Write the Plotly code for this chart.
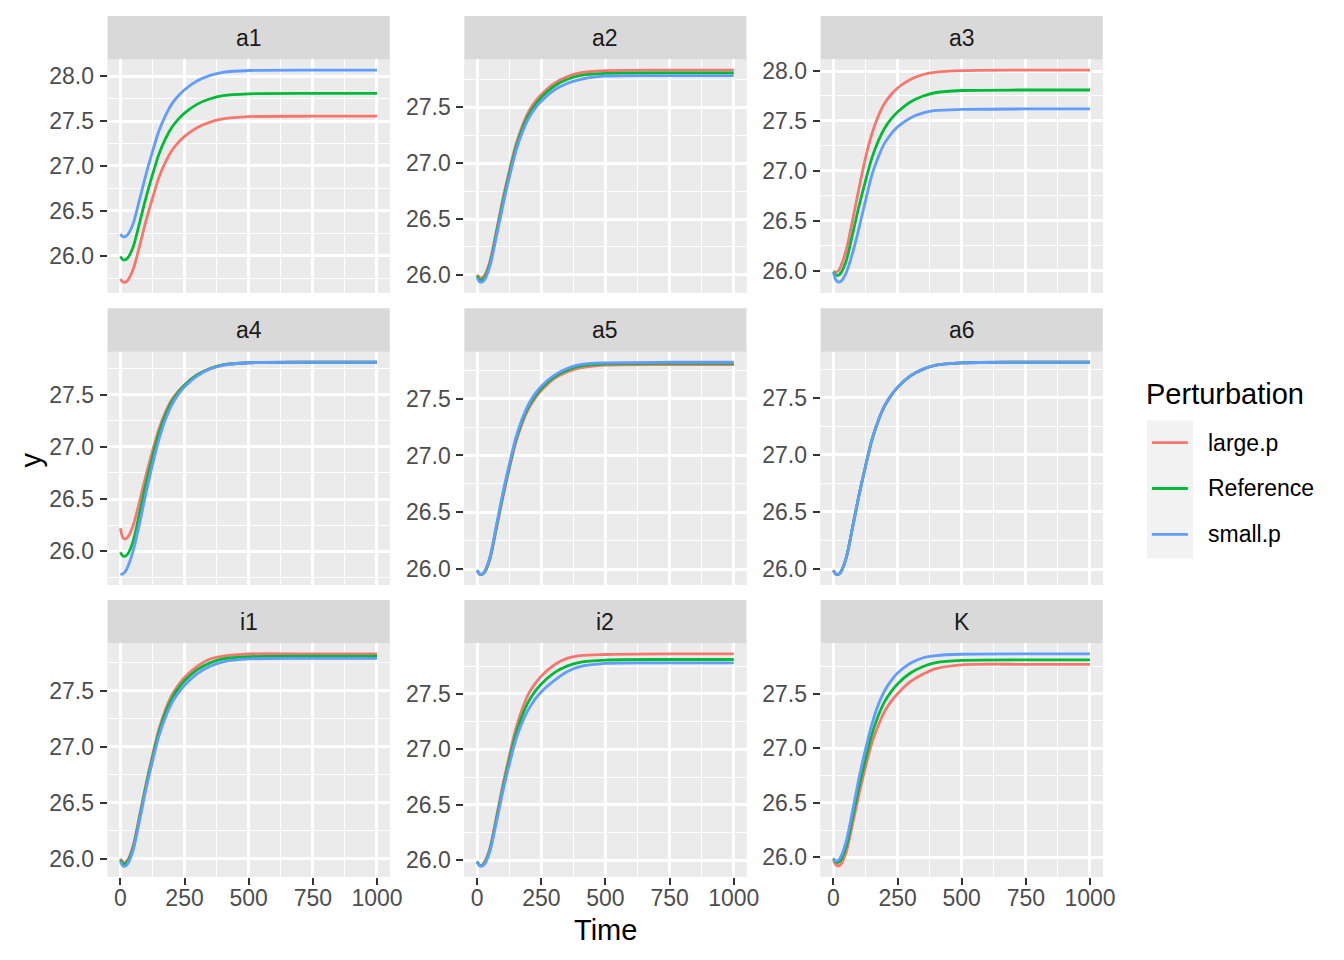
import plotly.graph_objects as go

# ---------------- data ----------------
time = [0, 10, 20, 30, 50, 75, 100, 125, 150, 175, 200, 225, 250, 300, 350, 400, 500, 750, 1000]
panels = ["a1", "a2", "a3", "a4", "a5", "a6", "i1", "i2", "K"]
groups = ["large.p", "Reference", "small.p"]
colors = ["#F8766D", "#00BA38", "#619CFF"]

reference = [25.99, 25.955, 25.955, 25.98, 26.10, 26.37, 26.65, 26.90, 27.13, 27.30, 27.43, 27.52, 27.59, 27.69, 27.75, 27.785, 27.805, 27.81, 27.81]

a1_large = [25.74, 25.705, 25.705, 25.73, 25.85, 26.11, 26.39, 26.64, 26.87, 27.04, 27.17, 27.26, 27.33, 27.43, 27.49, 27.525, 27.55, 27.555, 27.555]
a1_small = [26.24, 26.21, 26.215, 26.24, 26.36, 26.63, 26.91, 27.16, 27.39, 27.56, 27.69, 27.78, 27.85, 27.95, 28.01, 28.045, 28.065, 28.07, 28.07]

a2_large = [26.00, 25.975, 25.975, 26.00, 26.125, 26.395, 26.68, 26.93, 27.16, 27.33, 27.46, 27.55, 27.615, 27.715, 27.775, 27.81, 27.83, 27.835, 27.835]
a2_small = [25.97, 25.935, 25.935, 25.96, 26.08, 26.345, 26.62, 26.87, 27.10, 27.27, 27.40, 27.49, 27.555, 27.655, 27.715, 27.75, 27.78, 27.785, 27.785]

a3_large = [25.99, 25.985, 26.00, 26.05, 26.21, 26.51, 26.83, 27.13, 27.37, 27.55, 27.68, 27.765, 27.83, 27.915, 27.965, 27.99, 28.005, 28.01, 28.01]
a3_small = [25.98, 25.905, 25.885, 25.895, 25.98, 26.18, 26.43, 26.70, 26.96, 27.14, 27.28, 27.37, 27.44, 27.53, 27.58, 27.605, 27.615, 27.62, 27.62]

a4_large = [26.22, 26.13, 26.12, 26.14, 26.25, 26.48, 26.73, 26.96, 27.17, 27.33, 27.45, 27.53, 27.595, 27.69, 27.75, 27.785, 27.805, 27.81, 27.81]
a4_small = [25.78, 25.785, 25.81, 25.86, 26.01, 26.27, 26.56, 26.83, 27.07, 27.26, 27.40, 27.50, 27.575, 27.68, 27.745, 27.78, 27.805, 27.81, 27.81]

a5_large = [25.99, 25.955, 25.955, 25.975, 26.09, 26.355, 26.63, 26.88, 27.11, 27.28, 27.41, 27.50, 27.57, 27.675, 27.735, 27.77, 27.795, 27.80, 27.80]
a5_small = [25.99, 25.955, 25.96, 25.985, 26.11, 26.385, 26.67, 26.92, 27.15, 27.32, 27.45, 27.54, 27.61, 27.705, 27.765, 27.80, 27.815, 27.82, 27.82]

a6_large = [25.99, 25.955, 25.955, 25.98, 26.10, 26.37, 26.65, 26.90, 27.13, 27.30, 27.43, 27.52, 27.59, 27.69, 27.75, 27.785, 27.805, 27.81, 27.81]
a6_small = [25.99, 25.955, 25.955, 25.98, 26.10, 26.37, 26.65, 26.90, 27.13, 27.30, 27.43, 27.52, 27.59, 27.69, 27.75, 27.785, 27.805, 27.81, 27.81]

i1_large = [26.00, 25.97, 25.97, 25.995, 26.12, 26.39, 26.67, 26.925, 27.155, 27.33, 27.46, 27.55, 27.62, 27.72, 27.785, 27.81, 27.83, 27.83, 27.83]
i1_small = [25.975, 25.935, 25.935, 25.96, 26.08, 26.345, 26.625, 26.87, 27.095, 27.26, 27.39, 27.48, 27.55, 27.655, 27.72, 27.76, 27.785, 27.79, 27.79]

i2_large = [25.99, 25.955, 25.96, 25.99, 26.115, 26.39, 26.68, 26.94, 27.18, 27.36, 27.50, 27.59, 27.66, 27.76, 27.82, 27.845, 27.855, 27.86, 27.86]
i2_small = [25.985, 25.95, 25.95, 25.97, 26.085, 26.345, 26.62, 26.86, 27.08, 27.24, 27.36, 27.45, 27.52, 27.62, 27.70, 27.745, 27.775, 27.78, 27.78]

K_large = [25.975, 25.93, 25.92, 25.94, 26.05, 26.31, 26.58, 26.83, 27.05, 27.21, 27.34, 27.43, 27.50, 27.61, 27.68, 27.73, 27.765, 27.77, 27.77]
K_small = [25.98, 25.965, 25.975, 26.01, 26.15, 26.43, 26.73, 26.99, 27.22, 27.40, 27.53, 27.62, 27.69, 27.78, 27.83, 27.85, 27.862, 27.865, 27.865]

x_ticks = [0, 250, 500, 750, 1000]
x_tick_labels = ["0", "250", "500", "750", "1000"]

series = {
    "a1": [a1_large, reference, a1_small],
    "a2": [a2_large, reference, a2_small],
    "a3": [a3_large, reference, a3_small],
    "a4": [a4_large, reference, a4_small],
    "a5": [a5_large, reference, a5_small],
    "a6": [a6_large, reference, a6_small],
    "i1": [i1_large, reference, i1_small],
    "i2": [i2_large, reference, i2_small],
    "K": [K_large, reference, K_small],
}

# ---------------- layout geometry (pixels of the 1344x960 target) ----------------
W, H = 1344, 960
FIG_W = 1358  # rendered width (the page is compressed horizontally when photographed)
col_px = [(107.5, 389.5), (464, 746), (820, 1102)]
panel_rows = [(58.5, 292), (351, 584.5), (643, 876.5)]
strip_rows = [(15, 58.5), (307.5, 351), (599.5, 643)]

FONT = "Liberation Sans, Arial, Helvetica, sans-serif"


def px(x):
    return x / W


def py(y):
    return 1 - y / H


fig = go.Figure()
shapes = []
annotations = []
layout_axes = {}

for i, name in enumerate(panels):
    r, c = divmod(i, 3)
    idx = i + 1
    xa = "x" if idx == 1 else f"x{idx}"
    ya = "y" if idx == 1 else f"y{idx}"
    for g, col, vals in zip(groups, colors, series[name]):
        fig.add_trace(go.Scatter(
            x=time, y=vals, mode="lines", name=g,
            line=dict(color=col, width=2.8, shape="spline", smoothing=0.8),
            xaxis=xa, yaxis=ya, showlegend=False, hoverinfo="skip",
        ))
    allv = [v for s in series[name] for v in s]
    lo, hi = min(allv), max(allv)
    pad = 0.05 * (hi - lo)
    xlo, xhi = min(time), max(time)
    xpad = 0.05 * (xhi - xlo)
    bottom = (r == 2)
    x0, x1 = col_px[c]
    p0, p1 = panel_rows[r]
    s0, s1 = strip_rows[r]
    xkey = "xaxis" if idx == 1 else f"xaxis{idx}"
    ykey = "yaxis" if idx == 1 else f"yaxis{idx}"
    layout_axes[xkey] = dict(
        domain=[px(x0), px(x1)], anchor=ya, range=[xlo - xpad, xhi + xpad],
        tickvals=x_ticks, ticktext=x_tick_labels,
        showticklabels=bottom, ticks="outside" if bottom else "",
        ticklen=7, tickwidth=2.4, tickcolor="#333333",
        tickfont=dict(family=FONT, size=23, color="#4D4D4D"),
        ticklabelstandoff=-6,
        showgrid=True, gridcolor="white", gridwidth=2.6,
        minor=dict(tickvals=[125, 375, 625, 875], showgrid=True, gridcolor="white", gridwidth=1.3),
        zeroline=False, showline=False, fixedrange=True,
    )
    layout_axes[ykey] = dict(
        domain=[py(p1), py(p0)], anchor=xa, range=[lo - pad, hi + pad],
        tick0=0, dtick=0.5, tickformat=".1f",
        ticks="outside", ticklen=7, tickwidth=2.4, tickcolor="#333333",
        tickfont=dict(family=FONT, size=23, color="#4D4D4D"),
        ticklabelstandoff=1,
        showgrid=True, gridcolor="white", gridwidth=2.6,
        minor=dict(tick0=0, dtick=0.25, showgrid=True, gridcolor="white", gridwidth=1.3),
        zeroline=False, showline=False, fixedrange=True,
    )
    shapes.append(dict(type="rect", xref="paper", yref="paper",
                       x0=px(x0), x1=px(x1), y0=py(p1), y1=py(p0),
                       fillcolor="#EBEBEB", line=dict(width=0), layer="below"))
    shapes.append(dict(type="rect", xref="paper", yref="paper",
                       x0=px(x0), x1=px(x1), y0=py(s1), y1=py(s0),
                       fillcolor="#D9D9D9", line=dict(width=0), layer="below"))
    annotations.append(dict(text=name, xref="paper", yref="paper",
                            x=px((x0 + x1) / 2), y=py((s0 + s1) / 2),
                            xanchor="center", yanchor="middle", showarrow=False,
                            font=dict(family=FONT, size=23, color="#1A1A1A")))

# axis titles
annotations.append(dict(text="Time", xref="paper", yref="paper", x=px(605), y=py(930),
                        xanchor="center", yanchor="middle", showarrow=False,
                        font=dict(family=FONT, size=29, color="black")))
annotations.append(dict(text="y", xref="paper", yref="paper", x=px(30), y=py(460),
                        xanchor="center", yanchor="middle", showarrow=False, textangle=-90,
                        font=dict(family=FONT, size=29, color="black")))

# legend (drawn manually, ggplot style)
annotations.append(dict(text="Perturbation", xref="paper", yref="paper", x=px(1143), y=py(393),
                        xanchor="left", yanchor="middle", showarrow=False,
                        font=dict(family=FONT, size=29, color="black")))
shapes.append(dict(type="rect", xref="paper", yref="paper",
                   x0=px(1146), x1=px(1192), y0=py(558), y1=py(420),
                   fillcolor="#F2F2F2", line=dict(width=0), layer="below"))
key_y = [442, 488, 534]
for g, col, ky in zip(groups, colors, key_y):
    shapes.append(dict(type="line", xref="paper", yref="paper",
                       x0=px(1151), x1=px(1187), y0=py(ky), y1=py(ky),
                       line=dict(color=col, width=2.8)))
    annotations.append(dict(text=g, xref="paper", yref="paper", x=px(1205), y=py(ky),
                            xanchor="left", yanchor="middle", showarrow=False,
                            font=dict(family=FONT, size=23, color="black")))

fig.update_layout(
    width=FIG_W, height=H, autosize=False,
    margin=dict(l=0, r=0, t=0, b=0),
    paper_bgcolor="white", plot_bgcolor="#EBEBEB",
    showlegend=False, shapes=shapes, annotations=annotations,
    font=dict(family=FONT),
    **layout_axes,
)

post = ("document.body.style.margin='0px';document.body.style.padding='0px';"
        "document.body.style.overflow='hidden';"
        "document.documentElement.style.overflow='hidden';")
fig.write_html("out.html", config={"responsive": False, "displayModeBar": False},
               post_script=post)
